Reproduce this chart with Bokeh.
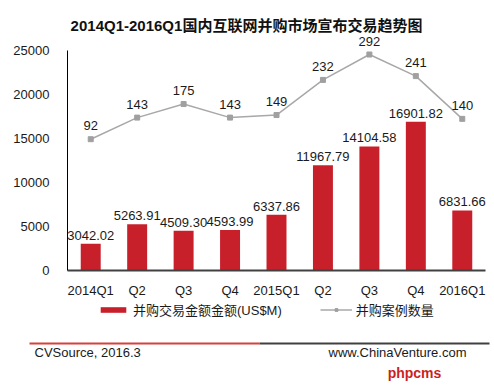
from bokeh.plotting import figure
from bokeh.models import (ColumnDataSource, Range1d, FixedTicker, Legend, LegendItem,
                          Label, BoxAnnotation)
from bokeh.core.properties import value
from bokeh.embed import file_html
from bokeh.resources import INLINE

# ---- data ----
tick_labels = ["2014Q1", "Q2", "Q3", "Q4", "2015Q1", "Q2", "Q3", "Q4", "2016Q1"]
amounts = [3042.02, 5263.91, 4509.30, 4593.99, 6337.86, 11967.79, 14104.58, 16901.82, 6831.66]
counts = [92, 143, 175, 143, 149, 232, 292, 241, 140]
y_ticks = [0, 5000, 10000, 15000, 20000, 25000]

W, H = 494, 390
xs = list(range(len(tick_labels)))
LAT = "'Liberation Sans', 'Noto Sans CJK SC'"

bar_src = ColumnDataSource(dict(x=xs, y=amounts, lab=["%.2f" % v for v in amounts]))
line_src = ColumnDataSource(dict(x=xs, y=counts, lab=[str(v) for v in counts]))

# plot area geometry (pixels in the canvas)
L, R, T, B = 67, 485, 50, 270
step = (R - L) / len(xs)
upp = 25000 / (B - T)
x0 = -0.5 - L / step
x1 = -0.5 + (W - L) / step
y0 = -(H - B) * upp
y1 = B * upp
cpp = 200 / (138.7 - 54.0)
c1 = 292 + 54.0 * cpp
c0 = 292 - (H - 54.0) * cpp

p = figure(width=W, height=H, output_backend="svg", toolbar_location=None,
           x_range=Range1d(x0, x1), y_range=Range1d(y0, y1),
           min_border_left=0, min_border_top=0, min_border_right=0, min_border_bottom=0)
p.extra_y_ranges = {"cnt": Range1d(c0, c1)}
p.outline_line_color = None
p.xgrid.visible = False
p.ygrid.visible = False
p.background_fill_color = "white"
p.border_fill_color = "white"

bars = p.vbar(x="x", top="y", width=0.43, source=bar_src, fill_color="#C8202B", line_color=None)
ln = p.line(x="x", y="y", source=line_src, y_range_name="cnt", line_color="#A8A8A8", line_width=1.5)
sc = p.scatter(x="x", y="y", source=line_src, y_range_name="cnt", marker="square", size=5,
               fill_color="#A0A0A0", line_color="#A0A0A0")

p.text(x="x", y="y", text="lab", source=bar_src, text_align="center", text_baseline="bottom",
       y_offset=-4, text_font=value(LAT), text_font_size="13px", text_color="#1a1a1a")
p.text(x="x", y="y", text="lab", source=line_src, y_range_name="cnt", text_align="center",
       text_baseline="bottom", y_offset=-9, text_font=value(LAT), text_font_size="13px",
       text_color="#1a1a1a")

# axes (fixed inside the canvas)
p.yaxis.fixed_location = -0.5
p.yaxis.bounds = (0, 25000)
p.yaxis.ticker = FixedTicker(ticks=y_ticks)
p.yaxis.axis_line_color = "black"
p.yaxis.major_tick_line_color = None
p.yaxis.minor_tick_line_color = None
p.yaxis.major_label_standoff = 12
p.yaxis.major_label_text_font = LAT
p.yaxis.major_label_text_font_size = "13px"
p.yaxis.major_label_text_color = "#1a1a1a"

p.xaxis.fixed_location = 0
p.xaxis.bounds = (-0.5, len(xs) - 0.5)
p.xaxis.ticker = FixedTicker(ticks=xs)
p.xaxis.major_label_overrides = {i: t for i, t in enumerate(tick_labels)}
p.xaxis.axis_line_color = "#404040"
p.xaxis.axis_line_width = 2
p.xaxis.major_tick_line_color = None
p.xaxis.minor_tick_line_color = None
p.xaxis.major_label_standoff = 6
p.xaxis.major_label_text_font = LAT
p.xaxis.major_label_text_font_size = "13px"
p.xaxis.major_label_text_color = "#1a1a1a"

# legend
legend = Legend(items=[LegendItem(label="并购交易金额金额(US$M)", renderers=[bars]),
                       LegendItem(label="并购案例数量", renderers=[ln, sc])],
                location=(97, H - 319), orientation="horizontal", padding=0, margin=0,
                spacing=38, glyph_width=32, glyph_height=7, label_height=14,
                label_standoff=4, border_line_color=None, background_fill_alpha=0,
                label_text_font=LAT, label_text_font_size="13px", label_text_color="#1a1a1a")
p.add_layout(legend)

def lab(x, y, text, align, size, bold=False, color="#1a1a1a"):
    p.add_layout(Label(x=x, y=H - y, x_units="screen", y_units="screen", text=text,
                       text_align=align, text_baseline="middle", text_font=LAT,
                       text_font_size=size, text_font_style="bold" if bold else "normal",
                       text_color=color))

lab(246, 25, "2014Q1-2016Q1国内互联网并购市场宣布交易趋势图", "center", "15px", True, "#111111")
p.add_layout(BoxAnnotation(left=29, right=259, bottom=H - 344, top=H - 342, left_units="screen",
                           right_units="screen", bottom_units="screen", top_units="screen",
                           fill_color="#D8403A", fill_alpha=1, line_color=None))
p.add_layout(BoxAnnotation(left=259, right=489, bottom=H - 344, top=H - 342, left_units="screen",
                           right_units="screen", bottom_units="screen", top_units="screen",
                           fill_color="#404040", fill_alpha=1, line_color=None))
lab(34, 352, "CVSource, 2016.3", "left", "13px")
lab(466, 352, "www.ChinaVenture.com", "right", "13px")
lab(414, 372, "phpcms", "center", "14px", True, "#CC1F22")

open("out.html", "w").write(file_html(p, INLINE))
